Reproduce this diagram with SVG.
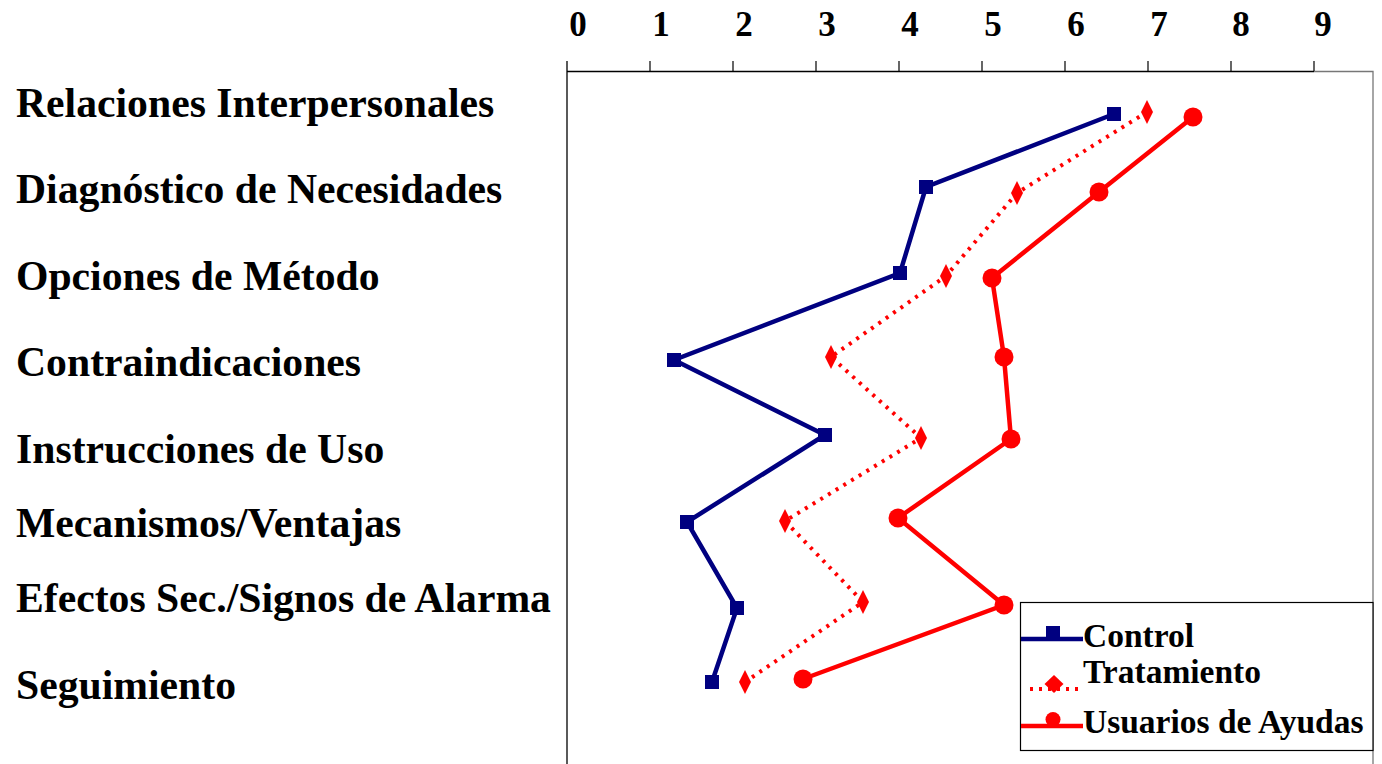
<svg xmlns="http://www.w3.org/2000/svg" width="1382" height="764" viewBox="0 0 1382 764">
<style>
.lbl{font-family:"Liberation Serif","Times New Roman",serif;font-weight:bold;font-size:41.7px;fill:#000}
.tick{font-family:"Liberation Serif","Times New Roman",serif;font-weight:bold;font-size:35px;fill:#000;text-anchor:middle}
.leg{font-family:"Liberation Serif","Times New Roman",serif;font-weight:bold;font-size:33.5px;fill:#000}
.ctl{fill:none;stroke:#000080;stroke-width:4.5;stroke-linejoin:miter}
.trt{fill:none;stroke:#ff0000;stroke-width:4;stroke-dasharray:3 6}
.usu{fill:none;stroke:#ff0000;stroke-width:4.5}
.sq{fill:#000080}
.dm{fill:#ff0000}
.ci{fill:#ff0000}
</style>
<rect width="1382" height="764" fill="#fff"/>
<g id="axis">
<line x1="567" y1="61" x2="567" y2="764" stroke="#000" stroke-width="1.3"/>
<line x1="567" y1="71.5" x2="1314" y2="71.5" stroke="#000" stroke-width="1.3"/>
<polyline points="1314,71.5 1373,71.5 1373,764" fill="none" stroke="#777" stroke-width="1.3"/>
<g stroke="#000" stroke-width="1.2">
<line x1="650" y1="61" x2="650" y2="71"/><line x1="733" y1="61" x2="733" y2="71"/><line x1="816" y1="61" x2="816" y2="71"/><line x1="899" y1="61" x2="899" y2="71"/><line x1="982" y1="61" x2="982" y2="71"/><line x1="1065" y1="61" x2="1065" y2="71"/><line x1="1148" y1="61" x2="1148" y2="71"/><line x1="1231" y1="61" x2="1231" y2="71"/><line x1="1314" y1="61" x2="1314" y2="71"/>
</g>
<g class="tick">
<text x="578" y="36">0</text><text x="661" y="36">1</text><text x="744" y="36">2</text><text x="827" y="36">3</text><text x="910" y="36">4</text><text x="993" y="36">5</text><text x="1076" y="36">6</text><text x="1159" y="36">7</text><text x="1241" y="36">8</text><text x="1323" y="36">9</text>
</g>
</g>
<g id="labels" class="lbl">
<text x="16" y="117">Relaciones Interpersonales</text>
<text x="16" y="203">Diagnóstico de Necesidades</text>
<text x="16" y="290">Opciones de Método</text>
<text x="16" y="376">Contraindicaciones</text>
<text x="16" y="463">Instrucciones de Uso</text>
<text x="16" y="537">Mecanismos/Ventajas</text>
<text x="16" y="612">Efectos Sec./Signos de Alarma</text>
<text x="16" y="699">Seguimiento</text>
</g>
<g id="connectors">
<polyline class="ctl" points="1114,114 926,187 900,273 674,360 825,435 687,522 737,608 712,682"/>
<polyline class="trt" points="1147,112 1017,193 946,276 831,357 921,438 785,521 863,602 745,682"/>
<polyline class="usu" points="1193,117 1099,192 992,278 1004,357 1011,439 898,518 1004,605 803,679"/>
</g>
<g id="control">
<rect class="sq" x="1107" y="107" width="14" height="14"/>
<rect class="sq" x="919" y="180" width="14" height="14"/>
<rect class="sq" x="893" y="266" width="14" height="14"/>
<rect class="sq" x="667" y="353" width="14" height="14"/>
<rect class="sq" x="818" y="428" width="14" height="14"/>
<rect class="sq" x="680" y="515" width="14" height="14"/>
<rect class="sq" x="730" y="601" width="14" height="14"/>
<rect class="sq" x="705" y="675" width="14" height="14"/>
</g>
<g id="tratamiento">
<polygon class="dm" points="1147,100 1153,112 1147,124 1141,112"/>
<polygon class="dm" points="1017,181 1023,193 1017,205 1011,193"/>
<polygon class="dm" points="946,264 952,276 946,288 940,276"/>
<polygon class="dm" points="831,345 837,357 831,369 825,357"/>
<polygon class="dm" points="921,426 927,438 921,450 915,438"/>
<polygon class="dm" points="785,509 791,521 785,533 779,521"/>
<polygon class="dm" points="863,590 869,602 863,614 857,602"/>
<polygon class="dm" points="745,670 751,682 745,694 739,682"/>
</g>
<g id="usuarios">
<circle class="ci" cx="1193" cy="117" r="9.5"/>
<circle class="ci" cx="1099" cy="192" r="9.5"/>
<circle class="ci" cx="992" cy="278" r="9.5"/>
<circle class="ci" cx="1004" cy="357" r="9.5"/>
<circle class="ci" cx="1011" cy="439" r="9.5"/>
<circle class="ci" cx="898" cy="518" r="9.5"/>
<circle class="ci" cx="1004" cy="605" r="9.5"/>
<circle class="ci" cx="803" cy="679" r="9.5"/>
</g>
<g id="legend">
<rect x="1020.5" y="602.5" width="352.5" height="148" fill="#fff" stroke="#000" stroke-width="1.2"/>
<line x1="1021" y1="639" x2="1083" y2="639" class="ctl"/>
<rect class="sq" x="1046" y="626" width="14" height="14"/>
<text class="leg" x="1083" y="647">Control</text>
<line x1="1030" y1="689" x2="1083" y2="689" class="trt"/>
<polygon class="dm" points="1054,675 1063.5,684 1054,693 1044.5,684"/>
<text class="leg" x="1083" y="683">Tratamiento</text>
<line x1="1021" y1="726" x2="1083" y2="726" class="usu"/>
<circle class="ci" cx="1053" cy="719.5" r="7.5"/>
<text class="leg" x="1083" y="733">Usuarios de Ayudas</text>
</g>
</svg>
